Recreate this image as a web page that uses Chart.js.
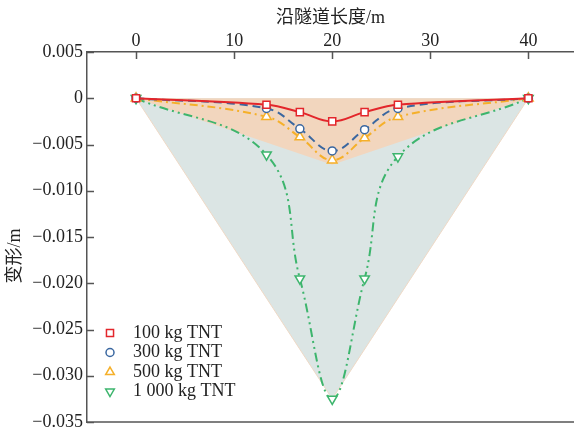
<!DOCTYPE html>
<html>
<head>
<meta charset="utf-8">
<script src="https://cdn.jsdelivr.net/npm/chart.js@4/dist/chart.umd.min.js"></script>
<style>
  html, body { margin: 0; padding: 0; background: #fff; }
  canvas { display: block; }
</style>
</head>
<body>
<canvas id="grafico" width="574" height="432"></canvas>
<script>
// posições ao longo do túnel (m)
const posicoes = [0, 13.3, 16.7, 20, 23.3, 26.7, 40];

// deformação (m) para cada carga
const tnt100 = [0, -0.0007, -0.0015, -0.0025, -0.0015, -0.0007, 0];
const tnt300 = [0, -0.0011, -0.0033, -0.0057, -0.0034, -0.0011, 0];
const tnt500 = [0, -0.0020, -0.0042, -0.0067, -0.0043, -0.0020, 0];
const tnt1000 = [0, -0.0061, -0.0195, -0.0325, -0.0195, -0.0063, 0];

// áreas sombreadas (envoltórias)
const envX = [0, 20, 40];
const envLaranja = [0, -0.0072, 0];
const envAzul = [0, -0.0325, 0];

const xTicks = [0, 10, 20, 30, 40];
const yTicks = [0.005, 0, -0.005, -0.010, -0.015, -0.020, -0.025, -0.030, -0.035];

const legendas = ['100 kg TNT', '300 kg TNT', '500 kg TNT', '1 000 kg TNT'];

const fonte = '"Liberation Serif", "Noto Sans CJK SC", serif';
const corEixo = '#555555';
const corTexto = '#222222';

function pontos(xs, ys) {
    return xs.map((x, i) => ({ x: x, y: ys[i] }));
}

function semPadding(scale) {
    scale.paddingLeft = 0;
    scale.paddingRight = 0;
    scale.paddingTop = 0;
    scale.paddingBottom = 0;
}

const series = [
    { label: legendas[0], data: tnt100, cor: '#e3262b', estilo: 'rect', raio: 5, rot: 0, dash: [], ordem: 0 },
    { label: legendas[1], data: tnt300, cor: '#3a67a0', estilo: 'circle', raio: 4, rot: 0, dash: [8, 5], ordem: 1 },
    { label: legendas[2], data: tnt500, cor: '#f5b02a', estilo: 'triangle', raio: 5.5, rot: 0, dash: [8, 4, 2, 4], ordem: 2 },
    { label: legendas[3], data: tnt1000, cor: '#3db56d', estilo: 'triangle', raio: 5.5, rot: 180, dash: [9, 4, 2, 4, 2, 4], ordem: 3 }
];

const datasets = series.map(s => ({
    label: s.label,
    data: pontos(posicoes, s.data),
    borderColor: s.cor,
    borderWidth: 2,
    borderDash: s.dash,
    tension: 0.4,
    fill: false,
    pointStyle: s.estilo,
    pointRadius: s.raio,
    pointRotation: s.rot,
    pointBorderColor: s.cor,
    pointBackgroundColor: '#ffffff',
    pointBorderWidth: 1.5,
    order: s.ordem
}));

datasets.push({
    label: 'env500',
    data: pontos(envX, envLaranja),
    borderColor: 'rgba(0,0,0,0)',
    borderWidth: 0,
    backgroundColor: '#f2d6be',
    fill: 'origin',
    tension: 0,
    pointRadius: 0,
    order: 10
});
datasets.push({
    label: 'env1000',
    data: pontos(envX, envAzul),
    borderColor: '#efd9c6',
    borderWidth: 1,
    backgroundColor: '#dbe5e4',
    fill: 'origin',
    tension: 0,
    pointRadius: 0,
    order: 11
});

const moldura = {
    id: 'moldura',
    afterDraw(chart) {
        const ctx = chart.ctx;
        const a = chart.chartArea;
        const x = chart.scales.x;
        const y = chart.scales.y;
        ctx.save();

        // linha inferior e ticks para dentro
        ctx.strokeStyle = corEixo;
        ctx.lineWidth = 1.5;
        ctx.beginPath();
        ctx.moveTo(a.left, a.bottom);
        ctx.lineTo(a.right, a.bottom);
        xTicks.forEach(v => {
            const px = Math.round(x.getPixelForValue(v)) + 0.5;
            ctx.moveTo(px, a.top);
            ctx.lineTo(px, a.top + 7);
        });
        yTicks.forEach(v => {
            const py = Math.round(y.getPixelForValue(v)) + 0.5;
            ctx.moveTo(a.left, py);
            ctx.lineTo(a.left + 7, py);
        });
        ctx.stroke();

        // título do eixo y
        ctx.fillStyle = corTexto;
        ctx.font = '18px ' + fonte;
        ctx.textAlign = 'center';
        ctx.textBaseline = 'middle';
        ctx.save();
        ctx.translate(15, 256);
        ctx.rotate(-Math.PI / 2);
        ctx.fillText('变形/m', 0, 0);
        ctx.restore();

        // legenda
        series.forEach((s, i) => {
            const ly = 333 + i * 19.5;
            ctx.fillStyle = '#ffffff';
            ctx.strokeStyle = s.cor;
            ctx.lineWidth = 1.5;
            ctx.setLineDash([]);
            Chart.helpers.drawPoint(ctx, {
                pointStyle: s.estilo,
                rotation: s.rot,
                radius: s.estilo === 'circle' ? 4 : 5,
                borderWidth: 1.5
            }, 110, ly);
            ctx.fillStyle = corTexto;
            ctx.textAlign = 'left';
            ctx.fillText(s.label, 133, ly);
        });

        ctx.restore();
    }
};

new Chart(document.getElementById('grafico'), {
    type: 'line',
    data: { datasets: datasets },
    plugins: [moldura],
    options: {
        responsive: false,
        animation: false,
        devicePixelRatio: 1,
        layout: { autoPadding: false, padding: { left: 0, right: 0, top: 0, bottom: 10 } },
        plugins: {
            legend: { display: false },
            tooltip: { enabled: false }
        },
        scales: {
            x: {
                type: 'linear',
                position: 'top',
                min: -5,
                max: 44.65,
                afterBuildTicks: scale => { scale.ticks = xTicks.map(v => ({ value: v })); },
                afterFit: scale => { scale.height = 52; semPadding(scale); },
                grid: { display: false, drawTicks: false },
                border: { display: true, color: corEixo, width: 1.5 },
                ticks: {
                    color: corTexto,
                    padding: 0,
                    font: { family: fonte, size: 18 }
                },
                title: {
                    display: true,
                    text: '沿隧道长度/m',
                    color: corTexto,
                    padding: { top: 7, bottom: 0 },
                    font: { family: fonte, size: 18 }
                }
            },
            y: {
                type: 'linear',
                position: 'left',
                min: -0.035,
                max: 0.005,
                afterBuildTicks: scale => { scale.ticks = yTicks.map(v => ({ value: v })); },
                afterFit: scale => { scale.width = 87; semPadding(scale); },
                grid: { display: false, drawTicks: false },
                border: { display: true, color: corEixo, width: 1.5 },
                ticks: {
                    color: corTexto,
                    padding: 4,
                    font: { family: fonte, size: 18 },
                    callback: v => v === 0 ? '0' : (v < 0 ? '\u2212' : '') + Math.abs(v).toFixed(3)
                }
            }
        }
    }
});
</script>
</body>
</html>
